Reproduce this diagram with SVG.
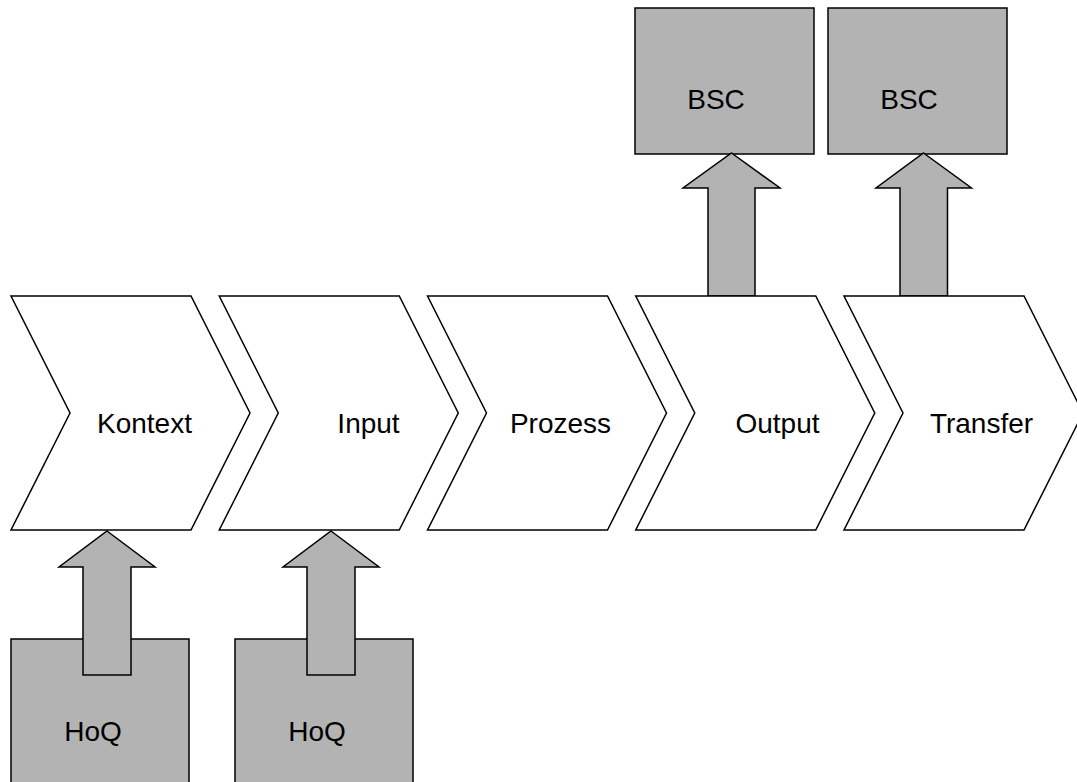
<svg xmlns="http://www.w3.org/2000/svg" width="1077" height="782" viewBox="0 0 1077 782">
<style>
.chev{fill:#ffffff;stroke:#000;stroke-width:1.5;stroke-linejoin:miter}
.box{fill:#b3b3b3;stroke:#000;stroke-width:1.5}
.arr{fill:#b3b3b3;stroke:#000;stroke-width:1.5;stroke-linejoin:miter}
text{font-family:"Liberation Sans",Arial,sans-serif;font-size:28px;fill:#000;text-anchor:middle}
</style>
<defs>
<polygon id="chevShape" points="0,0 180,0 239,117 180,234 0,234 59,117"/>
</defs>
<rect width="1077" height="782" fill="#ffffff"/>
<g id="hoq1"><rect class="box" x="11" y="639" width="178" height="160"/><text x="93" y="741">HoQ</text></g>
<g id="hoq2"><rect class="box" x="235" y="639" width="178" height="160"/><text x="317" y="741">HoQ</text></g>
<g id="bsc1"><rect class="box" x="635" y="8" width="179" height="146"/><text x="716" y="109">BSC</text></g>
<g id="bsc2"><rect class="box" x="828" y="8" width="179" height="146"/><text x="909" y="109">BSC</text></g>
<g id="connectors">
<polygon class="arr" points="107,531 155,567 131,567 131,675 83,675 83,567 59,567"/>
<polygon class="arr" points="331,531 379,567 355,567 355,675 307,675 307,567 283,567"/>
<polygon class="arr" points="731.5,153 780,188 755,188 755,296 708,296 708,188 683,188"/>
<polygon class="arr" points="923.5,153 971.5,188 947.5,188 947.5,296 900,296 900,188 876,188"/>
</g>
<g id="kontext"><use href="#chevShape" class="chev" x="11" y="296"/><text x="144.5" y="433">Kontext</text></g>
<g id="input"><use href="#chevShape" class="chev" x="219.25" y="296"/><text x="368.5" y="433">Input</text></g>
<g id="prozess"><use href="#chevShape" class="chev" x="427.5" y="296"/><text x="560.5" y="433">Prozess</text></g>
<g id="output"><use href="#chevShape" class="chev" x="635.75" y="296"/><text x="777.5" y="433">Output</text></g>
<g id="transfer"><use href="#chevShape" class="chev" x="844" y="296"/><text x="981.5" y="433">Transfer</text></g>
</svg>
